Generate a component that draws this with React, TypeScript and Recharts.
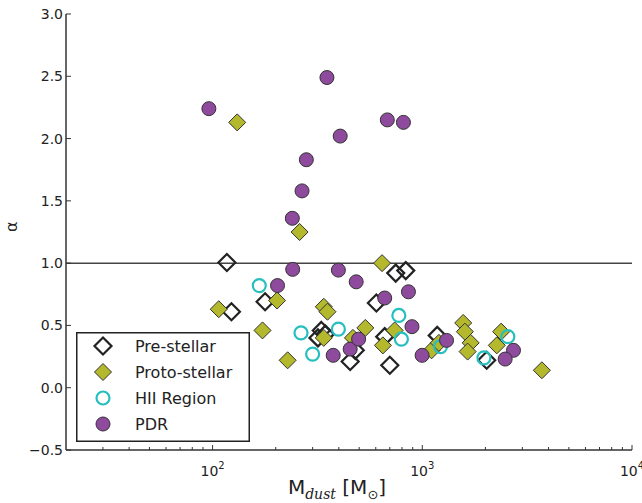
import {
  ScatterChart, Scatter, XAxis, YAxis, ReferenceLine, Legend,
} from 'recharts'

// Dust mass [M_sun] vs alpha
const preStellarMass = [117, 747, 834, 178, 123, 604, 330, 318, 345, 453, 479, 662, 700, 1178, 2028]
const preStellarAlpha = [1.005, 0.92, 0.94, 0.69, 0.61, 0.68, 0.46, 0.4, 0.43, 0.21, 0.3, 0.41, 0.18, 0.42, 0.22]

const protoStellarMass = [131, 260, 643, 203, 107, 339, 353, 173, 228, 339, 535, 467, 738, 649, 1107, 1200, 1567, 1596, 1701, 1645, 2377, 2266, 3718]
const protoStellarAlpha = [2.13, 1.25, 1.0, 0.7, 0.63, 0.65, 0.61, 0.46, 0.22, 0.4, 0.48, 0.4, 0.46, 0.34, 0.3, 0.36, 0.52, 0.45, 0.36, 0.29, 0.45, 0.34, 0.14]

const hiiMass = [167, 264, 398, 300, 773, 795, 1222, 1968, 2558]
const hiiAlpha = [0.82, 0.44, 0.47, 0.27, 0.58, 0.39, 0.33, 0.24, 0.41]

const pdrMass = [96, 351, 681, 813, 406, 280, 267, 240, 241, 398, 484, 859, 204, 662, 376, 453, 497, 893, 998, 1305, 2722, 2484]
const pdrAlpha = [2.24, 2.49, 2.15, 2.13, 2.02, 1.83, 1.58, 1.36, 0.95, 0.944, 0.85, 0.77, 0.82, 0.72, 0.26, 0.31, 0.39, 0.49, 0.26, 0.38, 0.3, 0.23]

const xMajor = [100, 1000, 10000]
const xMinor = [30, 40, 50, 60, 70, 80, 90, 200, 300, 400, 500, 600, 700, 800, 900, 2000, 3000, 4000, 5000, 6000, 7000, 8000, 9000]
const yTicks = [-0.5, 0, 0.5, 1.0, 1.5, 2.0, 2.5, 3.0]

const toPoints = (xs: number[], ys: number[]) => xs.map((m, i) => ({ m, a: ys[i] }))

const FONT = '"DejaVu Sans", sans-serif'
const AXIS = '#333'
const PROTO = '#b4b82c'
const PURPLE = '#8e4a9d'
const CYAN = '#26bfbf'

const xTicks = [...xMinor, ...xMajor].sort((a, b) => a - b)

const BottomTick = ({ x, y, payload }: any) => {
  const v = payload.value
  const major = xMajor.includes(v)
  return (
    <g>
      <line x1={x} x2={x} y1={y} y2={y - (major ? 5 : 3)} stroke={AXIS} strokeWidth={1} />
      {major && (
        <text x={x} y={y + 26} textAnchor="middle" fontFamily={FONT} fontSize={14} fill="#222">
          10<tspan dy={-7} fontSize={10}>{Math.round(Math.log10(v))}</tspan>
        </text>
      )}
    </g>
  )
}

const TopTick = ({ x, y, payload }: any) => {
  const major = xMajor.includes(payload.value)
  return <line x1={x} x2={x} y1={y} y2={y + (major ? 5 : 3)} stroke={AXIS} strokeWidth={1} />
}

const LeftTick = ({ x, y, payload }: any) => {
  const v = payload.value
  const label = (v < 0 ? '\u2212' : '') + Math.abs(v).toFixed(1)
  return (
    <g>
      <line x1={x} x2={x + 5} y1={y} y2={y} stroke={AXIS} strokeWidth={1} />
      <text x={x - 3} y={y + 5} textAnchor="end" fontFamily={FONT} fontSize={14} fill="#222">{label}</text>
    </g>
  )
}

const RightTick = ({ x, y }: any) => (
  <line x1={x} x2={x - 5} y1={y} y2={y} stroke={AXIS} strokeWidth={1} />
)

const Diamond = ({ cx, cy, fill, stroke, sw }: any) => (
  <polygon
    points={`${cx},${cy - 8.5} ${cx + 8.5},${cy} ${cx},${cy + 8.5} ${cx - 8.5},${cy}`}
    fill={fill}
    stroke={stroke}
    strokeWidth={sw}
  />
)

const preShape = (p: any) => <Diamond cx={p.cx} cy={p.cy} fill="none" stroke="#222" sw={2.2} />
const protoShape = (p: any) => <Diamond cx={p.cx} cy={p.cy} fill={PROTO} stroke="#333" sw={1} />
const hiiShape = (p: any) => <circle cx={p.cx} cy={p.cy} r={6.5} fill="none" stroke={CYAN} strokeWidth={2.2} />
const pdrShape = (p: any) => <circle cx={p.cx} cy={p.cy} r={7} fill={PURPLE} stroke="#333" strokeWidth={1} />

const legendRows = [
  { name: 'Pre-stellar', marker: (y: number) => <Diamond cx={27} cy={y} fill="none" stroke="#222" sw={2.2} /> },
  { name: 'Proto-stellar', marker: (y: number) => <Diamond cx={27} cy={y} fill={PROTO} stroke="#333" sw={1} /> },
  { name: 'HII Region', marker: (y: number) => <circle cx={27} cy={y} r={6.5} fill="none" stroke={CYAN} strokeWidth={2.2} /> },
  { name: 'PDR', marker: (y: number) => <circle cx={27} cy={y} r={7} fill={PURPLE} stroke="#333" strokeWidth={1} /> },
]

const LegendBox = () => (
  <svg width={174} height={110} style={{ display: 'block' }}>
    <rect x={0.75} y={0.75} width={172.5} height={108.5} fill="#fff" stroke="#222" strokeWidth={1.5} />
    {legendRows.map((r, i) => {
      const y = 14 + i * 26
      return (
        <g key={r.name}>
          {r.marker(y)}
          <text x={59} y={y + 6} fontFamily={FONT} fontSize={16} fill="#222">{r.name}</text>
        </g>
      )
    })}
  </svg>
)

export default function App() {
  return (
    <div style={{ position: 'absolute', left: 0, top: 0, width: 642, height: 503, background: '#fff' }}>
      <ScatterChart width={642} height={503} margin={{ top: 14, right: 10, left: 0, bottom: 0 }}>
        <XAxis
          xAxisId="b"
          dataKey="m"
          type="number"
          scale="log"
          domain={[20, 10000]}
          allowDataOverflow
          ticks={xTicks}
          interval={0}
          tick={<BottomTick />}
          tickLine={false}
          tickSize={0}
          tickMargin={0}
          height={53}
          axisLine={{ stroke: AXIS, strokeWidth: 1.5 }}
        />
        <XAxis
          xAxisId="t"
          orientation="top"
          type="number"
          scale="log"
          domain={[20, 10000]}
          allowDataOverflow
          ticks={xTicks}
          interval={0}
          tick={<TopTick />}
          tickLine={false}
          tickSize={0}
          tickMargin={0}
          height={0}
          axisLine={{ stroke: AXIS, strokeWidth: 1.5 }}
        />
        <YAxis
          yAxisId="l"
          dataKey="a"
          type="number"
          domain={[-0.5, 3]}
          allowDataOverflow
          ticks={yTicks}
          interval={0}
          tick={<LeftTick />}
          tickLine={false}
          tickSize={0}
          tickMargin={0}
          width={66}
          axisLine={{ stroke: AXIS, strokeWidth: 1.5 }}
          label={{ value: '\u03b1', angle: -90, position: 'insideLeft', dx: 6, fontFamily: FONT, fontSize: 16, fill: '#222' }}
        />
        <YAxis
          yAxisId="r"
          orientation="right"
          type="number"
          domain={[-0.5, 3]}
          allowDataOverflow
          ticks={yTicks}
          interval={0}
          tick={<RightTick />}
          tickLine={false}
          tickSize={0}
          tickMargin={0}
          width={0}
          axisLine={{ stroke: AXIS, strokeWidth: 1.5 }}
        />
        <ReferenceLine xAxisId="b" yAxisId="l" y={1} stroke="#444" strokeWidth={1.5} />
        <Scatter xAxisId="b" yAxisId="l" name="Pre-stellar" data={toPoints(preStellarMass, preStellarAlpha)} shape={preShape} isAnimationActive={false} />
        <Scatter xAxisId="b" yAxisId="l" name="Proto-stellar" data={toPoints(protoStellarMass, protoStellarAlpha)} shape={protoShape} isAnimationActive={false} />
        <Scatter xAxisId="b" yAxisId="l" name="HII Region" data={toPoints(hiiMass, hiiAlpha)} shape={hiiShape} isAnimationActive={false} />
        <Scatter xAxisId="b" yAxisId="l" name="PDR" data={toPoints(pdrMass, pdrAlpha)} shape={pdrShape} isAnimationActive={false} />
        <Legend
          layout="vertical"
          align="center"
          verticalAlign="middle"
          content={<LegendBox />}
          wrapperStyle={{ position: 'absolute', left: 76, top: 332, width: 174, height: 110 }}
        />
      </ScatterChart>
      <div
        style={{
          position: 'absolute', left: 0, width: 642, top: 476, textAlign: 'center',
          fontFamily: FONT, fontSize: 20, color: '#222', paddingLeft: 32,
          boxSizing: 'border-box', lineHeight: '22px',
        }}
      >
        M<sub style={{ fontStyle: 'italic', fontFamily: '"DejaVu Serif", serif', fontSize: 14 }}>dust</sub> [M<sub style={{ fontSize: 13 }}>{'\u2299'}</sub>]
      </div>
    </div>
  )
}
